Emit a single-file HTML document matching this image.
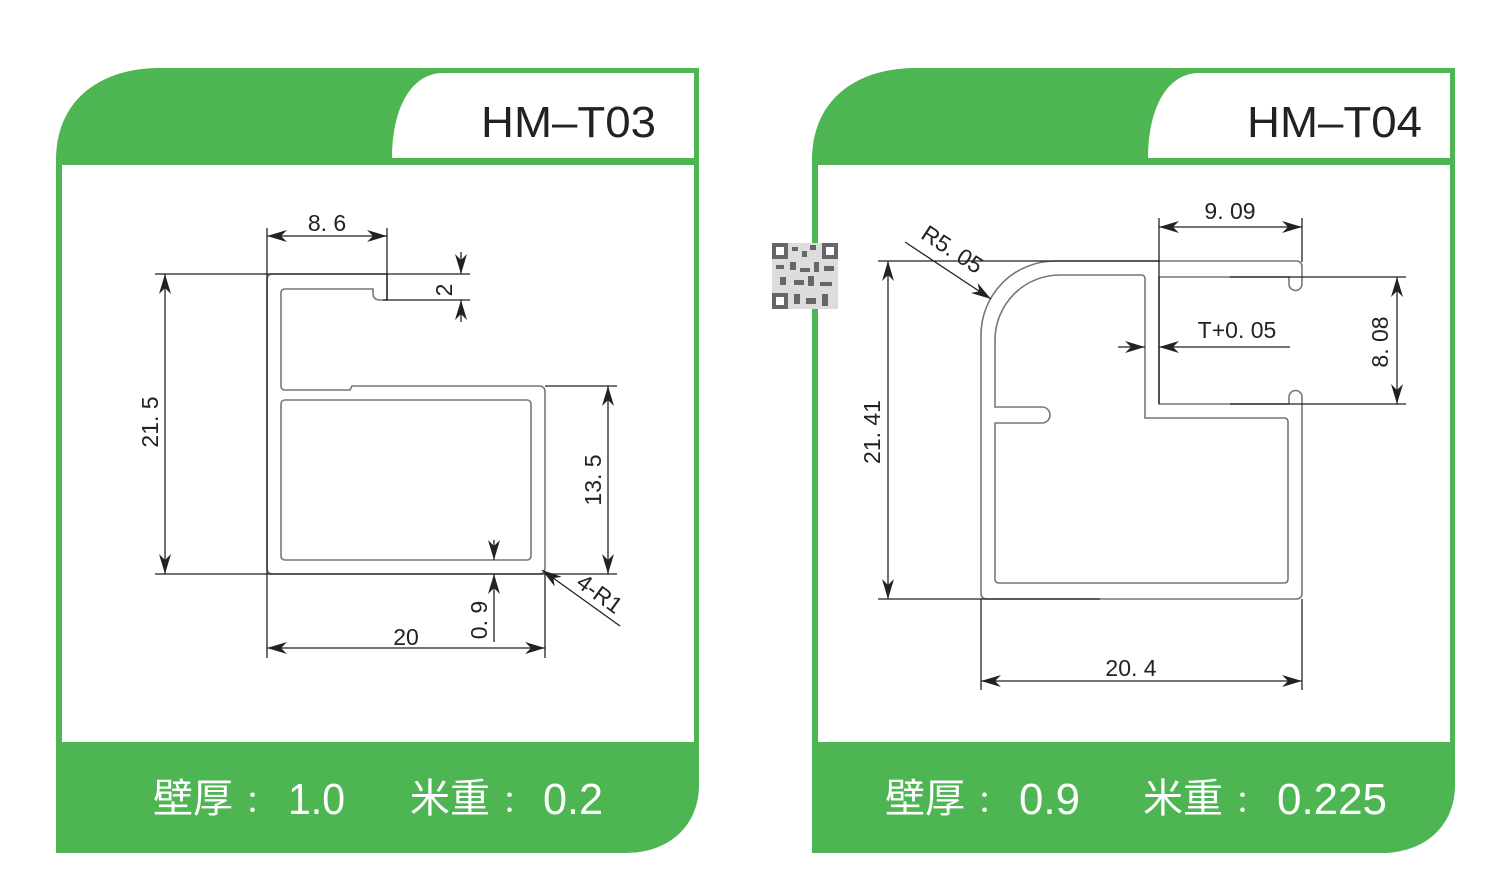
<!DOCTYPE html>
<html><head><meta charset="utf-8"><style>
html,body{margin:0;padding:0;background:#fff;width:1500px;height:889px;overflow:hidden}
svg{display:block}
.t{font-family:"Liberation Sans","Noto Sans CJK SC",sans-serif}
</style></head><body>
<svg width="1500" height="889" viewBox="0 0 1500 889" xmlns="http://www.w3.org/2000/svg">
<defs>
<marker id="a" viewBox="0 0 20 12" refX="20" refY="6" markerWidth="20" markerHeight="12" markerUnits="userSpaceOnUse" orient="auto-start-reverse"><path d="M0,0 L20,6 L0,12 L6,6 Z" fill="#222"/></marker>
</defs>
<g>
<path d="M56 853 V160 C56 100 100 68 160 68 H699 V785 C699 825 670 853 625 853 Z" fill="#4db652"/>
<path d="M392 158 C392 110 410 74 442 73 H694 V158 Z" fill="#fff"/>
<rect x="62" y="165" width="632" height="577" fill="#fff"/>
</g>
<g>
<path d="M812 853 V160 C812 100 856 68 916 68 H1455 V785 C1455 825 1426 853 1381 853 Z" fill="#4db652"/>
<path d="M1148 158 C1148 110 1166 74 1198 73 H1450 V158 Z" fill="#fff"/>
<rect x="818" y="165" width="632" height="577" fill="#fff"/>
</g>
<text x="481" y="137" class="t" font-size="44" fill="#222" textLength="175" lengthAdjust="spacingAndGlyphs">HM–T03</text>
<text x="1247" y="137" class="t" font-size="44" fill="#222" textLength="175" lengthAdjust="spacingAndGlyphs">HM–T04</text>
<g class="t" font-size="40" fill="#fff">
<text x="153" y="812">壁厚</text><text x="245" y="812" font-size="30">：</text>
<text x="288" y="814" font-size="44" textLength="57" lengthAdjust="spacingAndGlyphs">1.0</text>
<text x="410" y="812">米重</text><text x="502" y="812" font-size="30">：</text>
<text x="543" y="814" font-size="44" textLength="60" lengthAdjust="spacingAndGlyphs">0.2</text>
<text x="885" y="812">壁厚</text><text x="977" y="812" font-size="30">：</text>
<text x="1019" y="814" font-size="44" textLength="61" lengthAdjust="spacingAndGlyphs">0.9</text>
<text x="1143" y="812">米重</text><text x="1235" y="812" font-size="30">：</text>
<text x="1277" y="814" font-size="44" textLength="110" lengthAdjust="spacingAndGlyphs">0.225</text>
</g>
<!-- left profile -->
<g fill="none" stroke="#777" stroke-width="1.6">
<path d="M273 274 H387 V300 H380 Q373 300 373 293 V289 H285 Q281 289 281 293 V386 Q281 390 285 390 H350 L352 386 H539 Q545 386 545 392 V568 Q545 574 539 574 H273 Q267 574 267 568 V280 Q267 274 273 274 Z"/>
<rect x="281" y="400" width="250" height="160" rx="4"/>
</g>
<g stroke="#222" stroke-width="1.3" fill="none">
<line x1="267" y1="228" x2="267" y2="658"/>
<line x1="387" y1="228" x2="387" y2="300"/>
<line x1="267" y1="236" x2="387" y2="236" marker-start="url(#a)" marker-end="url(#a)"/>
<line x1="155" y1="274" x2="470" y2="274"/>
<line x1="155" y1="574" x2="617" y2="574"/>
<line x1="165" y1="274" x2="165" y2="574" marker-start="url(#a)" marker-end="url(#a)"/>
<line x1="383" y1="300" x2="470" y2="300"/>
<line x1="461" y1="252" x2="461" y2="274" marker-end="url(#a)"/>
<line x1="461" y1="322" x2="461" y2="300" marker-end="url(#a)"/>
<line x1="545" y1="386" x2="617" y2="386"/>
<line x1="608" y1="386" x2="608" y2="574" marker-start="url(#a)" marker-end="url(#a)"/>
<line x1="545" y1="574" x2="545" y2="658"/>
<line x1="267" y1="648" x2="545" y2="648" marker-start="url(#a)" marker-end="url(#a)"/>
<line x1="494" y1="540" x2="494" y2="560" marker-end="url(#a)"/>
<line x1="494" y1="642" x2="494" y2="574" marker-end="url(#a)"/>
<line x1="620" y1="626" x2="542" y2="570" marker-end="url(#a)"/>
</g>
<g class="t" font-size="23" fill="#222">
<text x="327" y="231" text-anchor="middle">8. 6</text>
<text x="406" y="645" text-anchor="middle">20</text>
<text transform="translate(158,422) rotate(-90)" text-anchor="middle">21. 5</text>
<text transform="translate(452,290) rotate(-90)" text-anchor="middle">2</text>
<text transform="translate(601,480) rotate(-90)" text-anchor="middle">13. 5</text>
<text transform="translate(487,620) rotate(-90)" text-anchor="middle">0. 9</text>
<text transform="translate(595,600) rotate(36)" text-anchor="middle">4-R1</text>
</g>
<!-- right profile -->
<g fill="none" stroke="#777" stroke-width="1.6">
<path d="M981 593 V335 A74 74 0 0 1 1055 261 H1296 Q1302 261 1302 267 V284 A6.5 6.5 0 0 1 1289 284 V277 H1159 V404 H1289 V397 A6.5 6.5 0 0 1 1302 397 V593 Q1302 599 1296 599 H987 Q981 599 981 593 Z"/>
<path d="M995 579 V423 H1042 A8 8 0 0 0 1042 407 H995 V340 A65 65 0 0 1 1060 275 H1141 Q1145 275 1145 279 V418 H1284 Q1288 418 1288 422 V579 Q1288 583 1284 583 H999 Q995 583 995 579 Z"/>
</g>
<g stroke="#222" stroke-width="1.3" fill="none">
<line x1="1159" y1="218" x2="1159" y2="404"/>
<line x1="1302" y1="218" x2="1302" y2="262"/>
<line x1="1159" y1="227" x2="1302" y2="227" marker-start="url(#a)" marker-end="url(#a)"/>
<line x1="878" y1="261" x2="1160" y2="261"/>
<line x1="878" y1="599" x2="1100" y2="599"/>
<line x1="888" y1="261" x2="888" y2="599" marker-start="url(#a)" marker-end="url(#a)"/>
<line x1="1230" y1="277" x2="1406" y2="277"/>
<line x1="1230" y1="404" x2="1406" y2="404"/>
<line x1="1397" y1="277" x2="1397" y2="404" marker-start="url(#a)" marker-end="url(#a)"/>
<line x1="1118" y1="347" x2="1145" y2="347" marker-end="url(#a)"/>
<line x1="1290" y1="347" x2="1159" y2="347" marker-end="url(#a)"/>
<line x1="981" y1="599" x2="981" y2="690"/>
<line x1="1302" y1="599" x2="1302" y2="690"/>
<line x1="981" y1="681" x2="1302" y2="681" marker-start="url(#a)" marker-end="url(#a)"/>
<line x1="905" y1="242" x2="991" y2="299" marker-end="url(#a)"/>
</g>
<g class="t" font-size="23" fill="#222">
<text x="1230" y="219" text-anchor="middle">9. 09</text>
<text x="1237" y="338" text-anchor="middle">T+0. 05</text>
<text x="1131" y="676" text-anchor="middle">20. 4</text>
<text transform="translate(880,432) rotate(-90)" text-anchor="middle">21. 41</text>
<text transform="translate(1388,342) rotate(-90)" text-anchor="middle">8. 08</text>
<text transform="translate(948,256) rotate(33)" text-anchor="middle">R5. 05</text>
</g>
<!-- QR -->
<g fill="#666">
<rect x="772" y="243" width="66" height="66" fill="#ddd"/>
<rect x="772" y="243" width="16" height="16"/><rect x="776" y="247" width="8" height="8" fill="#fff"/>
<rect x="822" y="243" width="16" height="16"/><rect x="826" y="247" width="8" height="8" fill="#fff"/>
<rect x="772" y="293" width="16" height="16"/><rect x="776" y="297" width="8" height="8" fill="#fff"/>
<rect x="792" y="247" width="6" height="4"/><rect x="802" y="251" width="5" height="6"/><rect x="810" y="245" width="6" height="5"/>
<rect x="776" y="265" width="8" height="4"/><rect x="790" y="262" width="6" height="8"/><rect x="800" y="268" width="10" height="4"/>
<rect x="814" y="262" width="5" height="10"/><rect x="824" y="266" width="10" height="5"/><rect x="780" y="277" width="6" height="8"/>
<rect x="794" y="280" width="10" height="5"/><rect x="808" y="276" width="6" height="10"/><rect x="820" y="282" width="12" height="4"/>
<rect x="794" y="294" width="6" height="10"/><rect x="806" y="298" width="10" height="6"/><rect x="822" y="294" width="6" height="12"/>
</g>
</svg>
</body></html>
